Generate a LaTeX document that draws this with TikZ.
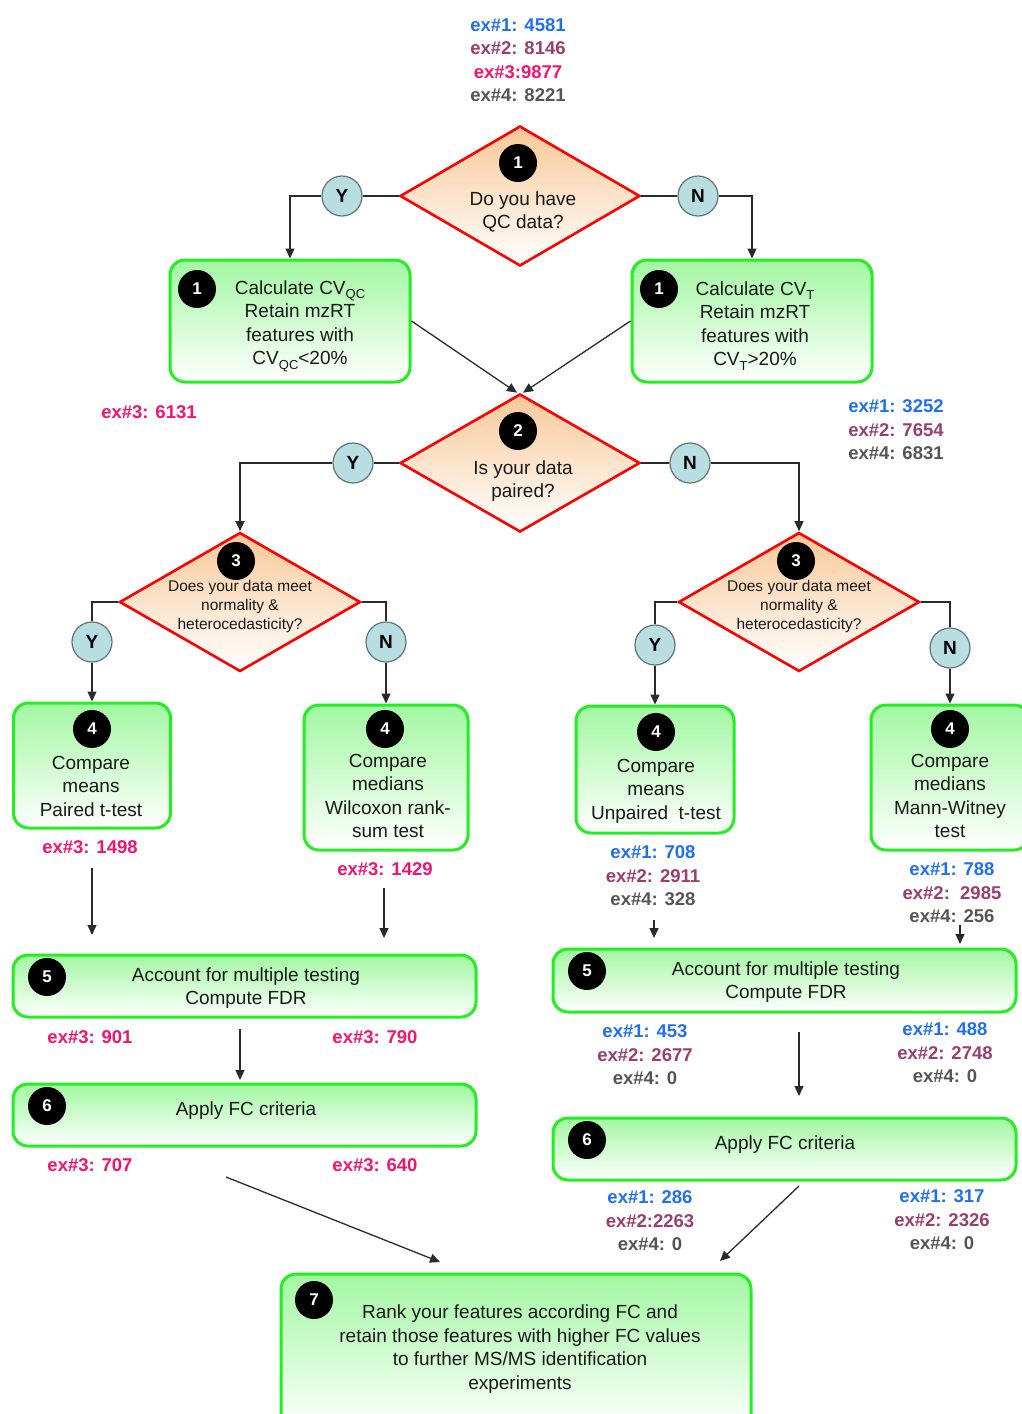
\documentclass[tikz,border=0pt]{standalone}
\usepackage{fontspec}
\setmainfont{Liberation Sans}
\usetikzlibrary{shapes.geometric,arrows.meta}
\definecolor{cA}{HTML}{1F6FF0}
\definecolor{cB}{HTML}{9C3D6E}
\definecolor{cC}{HTML}{F2146E}
\definecolor{cD}{HTML}{555555}
\definecolor{boxgreen}{HTML}{22EE22}
\definecolor{boxfill}{HTML}{A2F7A2}
\definecolor{dfill}{HTML}{F8C898}
\definecolor{ynfill}{HTML}{B8DEE2}
\definecolor{ynline}{HTML}{5F7375}
\definecolor{linecol}{HTML}{2A2A2A}
\newcommand{\subx}[1]{\raisebox{-4.5pt}{\fontsize{13}{13}\selectfont #1}}
\tikzset{
 dec/.style={diamond, draw=red, line width=2.6pt, top color=dfill, bottom color=white, inner sep=0pt},
 stepbox/.style={rectangle, rounded corners=15pt, draw=boxgreen, line width=3pt, top color=boxfill, bottom color=white, inner sep=0pt},
 numc/.style={circle, fill=black, minimum size=38pt, inner sep=0pt, text=white, font=\fontsize{17}{17}\selectfont\bfseries},
 ync/.style={circle, fill=ynfill, draw=ynline, line width=1.2pt, minimum size=40pt, inner sep=0pt, font=\fontsize{19}{19}\selectfont\bfseries},
 btxt/.style={align=center, text=black!90, font=\fontsize{19}{23.5}\selectfont, inner sep=0pt},
 stxt/.style={align=center, text=black!90, font=\fontsize{15.5}{19}\selectfont, inner sep=0pt},
 lab/.style={align=center, font=\fontsize{18.5}{23.5}\selectfont\bfseries, inner sep=0pt},
 conn/.style={draw=linecol, line width=1.3pt},
 arr/.style={conn, -{Triangle[length=10pt,width=9pt]}},
}
\begin{document}
\begin{tikzpicture}[x=1pt,y=-1pt]
\useasboundingbox (0,0) rectangle (1022,1414);
\clip (0,0) rectangle (1022,1414);
% top label
\node[lab] (ltop) at (518,60) {\color{cA}ex\#1: 4581\\\color{cB}ex\#2: 8146\\\color{cC}ex\#3:9877\\\color{cD}ex\#4: 8221};
% decision 1
\node[dec, minimum width=240pt, minimum height=140pt] (d1) at (520,196) {};
\node[numc] (n1) at (518,163) {1};
\node[btxt] (t1) at (523,212) {Do you have\\QC data?};
\node[ync] (y1) at (342,196) {Y};
\node[ync] (no1) at (698,196) {N};
% step 1 boxes
\node[stepbox, minimum width=240pt, minimum height=122pt] (b1l) at (290,321) {};
\node[numc] (n1l) at (197,289) {1};
\node[btxt] (t1l) at (300,326) {Calculate CV\subx{QC}\\Retain mzRT\\features with\\CV\subx{QC}<20\%};
\node[stepbox, minimum width=240pt, minimum height=122pt] (b1r) at (752,321) {};
\node[numc] (n1r) at (659,289) {1};
\node[btxt] (t1r) at (755,326) {Calculate CV\subx{T}\\Retain mzRT\\features with\\CV\subx{T}>20\%};
\draw[conn] (d1.west) -- (y1);
\draw[arr] (y1) -| (b1l.north);
\draw[conn] (d1.east) -- (no1);
\draw[arr] (no1) -| (b1r.north);
% decision 2
\node[dec, minimum width=240pt, minimum height=138pt] (d2) at (520,463) {};
\node[numc] (n2) at (518,431) {2};
\node[btxt] (t2) at (523,481) {Is your data\\paired?};
\node[ync] (y2) at (353,463) {Y};
\node[ync] (no2) at (690,463) {N};
\draw[arr] (b1l.east) -- ([xshift=-3pt]d2.north);
\draw[arr] (b1r.west) -- ([xshift=3pt]d2.north);
\node[lab, text=cC] (l2a) at (149,412) {ex\#3: 6131};
\node[lab] (l2b) at (896,430) {\color{cA}ex\#1: 3252\\\color{cB}ex\#2: 7654\\\color{cD}ex\#4: 6831};
% decision 3
\node[dec, minimum width=241pt, minimum height=139pt] (d3l) at (240,602) {};
\node[numc] (n3l) at (236,561) {3};
\node[stxt] (t3l) at (240,606) {Does your data meet\\normality \&\\heterocedasticity?};
\node[dec, minimum width=241pt, minimum height=139pt] (d3r) at (799,602) {};
\node[numc] (n3r) at (796,561) {3};
\node[stxt] (t3r) at (799,606) {Does your data meet\\normality \&\\heterocedasticity?};
\draw[conn] (d2.west) -- (y2);
\draw[arr] (y2) -| (d3l.north);
\draw[conn] (d2.east) -- (no2);
\draw[arr] (no2) -| (d3r.north);
\node[ync] (y3l) at (92,642) {Y};
\node[ync] (no3l) at (386,642) {N};
\node[ync] (y3r) at (655,645) {Y};
\node[ync] (no3r) at (950,648) {N};
% step 4 boxes
\node[stepbox, minimum width=157pt, minimum height=125pt] (b4a) at (92,765.5) {};
\node[numc] (n4a) at (92,729) {4};
\node[btxt] (t4a) at (91,786) {Compare\\means\\Paired t-test};
\node[stepbox, minimum width=164pt, minimum height=145pt] (b4b) at (386,777.5) {};
\node[numc] (n4b) at (385,729) {4};
\node[btxt] (t4b) at (388,796) {Compare\\medians\\Wilcoxon rank-\\sum test};
\node[stepbox, minimum width=158pt, minimum height=127pt] (b4c) at (655,769.5) {};
\node[numc] (n4c) at (656,732) {4};
\node[btxt] (t4c) at (656,791) {Compare\\means\\Unpaired\ \ t-test};
\node[stepbox, minimum width=158pt, minimum height=145pt] (b4d) at (950,777.5) {};
\node[numc] (n4d) at (950,729) {4};
\node[btxt] (t4d) at (950,796) {Compare\\medians\\Mann-Witney\\test};
\draw[conn] (d3l.west) -| (y3l);
\draw[arr] (y3l) -- (b4a.north);
\draw[conn] (d3l.east) -| (no3l);
\draw[arr] (no3l) -- (b4b.north);
\draw[conn] (d3r.west) -| (y3r);
\draw[arr] (y3r) -- (b4c.north);
\draw[conn] (d3r.east) -| (no3r);
\draw[arr] (no3r) -- (b4d.north);
\node[lab, text=cC] (l4a) at (90,847) {ex\#3: 1498};
\node[lab, text=cC] (l4b) at (385,869) {ex\#3: 1429};
\node[lab] (l4c) at (653,876) {\color{cA}ex\#1: 708\\\color{cB}ex\#2: 2911\\\color{cD}ex\#4: 328};
\node[lab] (l4d) at (952,893) {\color{cA}ex\#1: 788\\\color{cB}ex\#2:\ \ 2985\\\color{cD}ex\#4: 256};
\coordinate (a1s) at (92,868); \coordinate (a1e) at (92,935);
\coordinate (a2s) at (384,888); \coordinate (a2e) at (384,938);
\coordinate (a3s) at (654,920); \coordinate (a3e) at (654,938);
\coordinate (a4s) at (960,925); \coordinate (a4e) at (960,944);
\draw[arr] (a1s) -- (a1e);
\draw[arr] (a2s) -- (a2e);
\draw[arr] (a3s) -- (a3e);
\draw[arr] (a4s) -- (a4e);
% step 5 and 6, left
\node[stepbox, minimum width=463pt, minimum height=62pt] (b5l) at (244.5,986) {};
\node[numc] (n5l) at (47,977) {5};
\node[btxt] (t5l) at (246,988) {Account for multiple testing\\Compute FDR};
\node[lab, text=cC] (l5a) at (90,1037) {ex\#3: 901};
\node[lab, text=cC] (l5b) at (375,1037) {ex\#3: 790};
\node[stepbox, minimum width=463pt, minimum height=62pt] (b6l) at (244.5,1115) {};
\node[numc] (n6l) at (47,1106) {6};
\node[btxt] (t6l) at (246,1111) {Apply FC criteria};
\node[lab, text=cC] (l6a) at (90,1165) {ex\#3: 707};
\node[lab, text=cC] (l6b) at (375,1165) {ex\#3: 640};
\coordinate (a5s) at (240,1029); \coordinate (a5e) at (240,1080);
\draw[arr] (a5s) -- (a5e);
% step 5 and 6, right
\node[stepbox, minimum width=463pt, minimum height=63pt] (b5r) at (784.5,980.5) {};
\node[numc] (n5r) at (587,971) {5};
\node[btxt] (t5r) at (786,982) {Account for multiple testing\\Compute FDR};
\node[lab] (l5c) at (645,1055) {\color{cA}ex\#1: 453\\\color{cB}ex\#2: 2677\\\color{cD}ex\#4: 0};
\node[lab] (l5d) at (945,1053) {\color{cA}ex\#1: 488\\\color{cB}ex\#2: 2748\\\color{cD}ex\#4: 0};
\node[stepbox, minimum width=463pt, minimum height=62pt] (b6r) at (784.5,1149) {};
\node[numc] (n6r) at (587,1140) {6};
\node[btxt] (t6r) at (785,1145) {Apply FC criteria};
\node[lab] (l6c) at (650,1221) {\color{cA}ex\#1: 286\\\color{cB}ex\#2:2263\\\color{cD}ex\#4: 0};
\node[lab] (l6d) at (942,1220) {\color{cA}ex\#1: 317\\\color{cB}ex\#2: 2326\\\color{cD}ex\#4: 0};
\coordinate (a6s) at (799,1032); \coordinate (a6e) at (799,1096);
\draw[arr] (a6s) -- (a6e);
% step 7
\node[stepbox, minimum width=470pt, minimum height=156pt] (b7) at (516,1352) {};
\node[numc] (n7) at (314,1300) {7};
\node[btxt] (t7) at (520,1349) {Rank your features according FC and\\retain those features with higher FC values\\to further MS/MS identification\\experiments};
\coordinate (a7s) at (226,1177); \coordinate (a7e) at (440,1262);
\coordinate (a8s) at (799,1186); \coordinate (a8e) at (720,1261);
\draw[arr] (a7s) -- (a7e);
\draw[arr] (a8s) -- (a8e);
\end{tikzpicture}
\end{document}
